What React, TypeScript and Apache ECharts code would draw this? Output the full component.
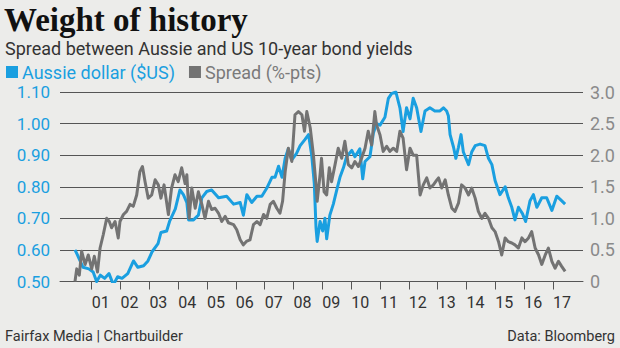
import React, { useEffect, useRef } from "react";
import * as echarts from "echarts";

const titleText = "Weight of history";
const subtitleText = "Spread between Aussie and US 10-year bond yields";
const audName = "Aussie dollar ($US)";
const spreadName = "Spread (%-pts)";
const sourceLeft = "Fairfax Media | Chartbuilder";
const sourceRight = "Data: Bloomberg";

const yearTicks = [2001, 2002, 2003, 2004, 2005, 2006, 2007, 2008, 2009, 2010, 2011, 2012, 2013, 2014, 2015, 2016, 2017];

const audTimes = [
  2000.42, 2000.5, 2000.55, 2000.7, 2000.9, 2001.05, 2001.17, 2001.3, 2001.45, 2001.6, 2001.75, 2001.9,
  2002.05, 2002.25, 2002.45, 2002.6, 2002.8, 2002.95, 2003.1, 2003.3, 2003.4, 2003.6, 2003.7, 2003.9,
  2004.06, 2004.18, 2004.3, 2004.36, 2004.53, 2004.7, 2004.82, 2004.99, 2005.16, 2005.4, 2005.68, 2005.92,
  2006.15, 2006.26, 2006.38, 2006.55, 2006.73, 2006.9, 2007.07, 2007.25, 2007.36, 2007.48, 2007.6, 2007.71,
  2007.82, 2007.94, 2008.1, 2008.23, 2008.4, 2008.52, 2008.63, 2008.72, 2008.78, 2008.82, 2008.92, 2009.01,
  2009.09, 2009.15, 2009.26, 2009.38, 2009.5, 2009.61, 2009.73, 2009.84, 2010.02, 2010.13, 2010.3, 2010.4,
  2010.48, 2010.65, 2010.77, 2010.88, 2011.0, 2011.17, 2011.29, 2011.4, 2011.55, 2011.69, 2011.8, 2011.92,
  2012.04, 2012.15, 2012.27, 2012.42, 2012.56, 2012.73, 2012.9, 2013.08, 2013.2, 2013.31, 2013.37, 2013.43,
  2013.55, 2013.63, 2013.72, 2013.81, 2013.89, 2014.07, 2014.18, 2014.3, 2014.47, 2014.64, 2014.76, 2014.88,
  2014.99, 2015.16, 2015.34, 2015.45, 2015.57, 2015.68, 2015.8, 2015.94, 2016.05, 2016.2, 2016.32, 2016.44,
  2016.61, 2016.78, 2016.96, 2017.13, 2017.25, 2017.42,
];
const audValues = [
  0.6, 0.585, 0.575, 0.545, 0.54, 0.53, 0.5, 0.52, 0.51, 0.525, 0.49, 0.515,
  0.51, 0.525, 0.565, 0.545, 0.55, 0.565, 0.595, 0.62, 0.655, 0.66, 0.69, 0.73,
  0.79, 0.775, 0.75, 0.695, 0.695, 0.71, 0.765, 0.785, 0.79, 0.765, 0.77, 0.745,
  0.75, 0.71, 0.775, 0.75, 0.77, 0.77, 0.795, 0.83, 0.83, 0.865, 0.83, 0.89,
  0.92, 0.885, 0.905, 0.93, 0.95, 0.965, 0.9, 0.81, 0.67, 0.627, 0.69, 0.66,
  0.7, 0.635, 0.71, 0.745, 0.79, 0.83, 0.86, 0.895, 0.915, 0.895, 0.92, 0.825,
  0.88, 0.895, 0.97, 1.0, 0.995, 1.02, 1.08, 1.095, 1.1, 1.05, 0.975, 1.05,
  1.015, 1.08, 1.05, 0.975, 1.04, 1.05, 1.04, 1.04, 1.05, 1.04, 1.025, 0.965,
  0.925, 0.89, 0.925, 0.965, 0.91, 0.87, 0.91, 0.93, 0.935, 0.93, 0.89, 0.87,
  0.82, 0.775, 0.8, 0.765, 0.735, 0.695, 0.735, 0.715, 0.69, 0.755, 0.775, 0.735,
  0.765, 0.765, 0.725, 0.77, 0.76, 0.745,
];

const spreadTimes = [
  2000.42, 2000.48, 2000.57, 2000.65, 2000.77, 2000.88, 2001.0, 2001.09, 2001.2, 2001.29, 2001.4, 2001.52,
  2001.61, 2001.69, 2001.81, 2001.92, 2001.98, 2002.1, 2002.21, 2002.33, 2002.44, 2002.56, 2002.67, 2002.76,
  2002.85, 2002.96, 2003.08, 2003.2, 2003.31, 2003.4, 2003.51, 2003.66, 2003.77, 2003.89, 2004.0, 2004.12,
  2004.24, 2004.3, 2004.38, 2004.47, 2004.59, 2004.7, 2004.82, 2004.93, 2005.05, 2005.16, 2005.28, 2005.4,
  2005.51, 2005.63, 2005.74, 2005.92, 2006.03, 2006.15, 2006.26, 2006.38, 2006.49, 2006.61, 2006.73, 2006.84,
  2006.96, 2007.07, 2007.19, 2007.3, 2007.42, 2007.53, 2007.62, 2007.71, 2007.82, 2007.94, 2008.05, 2008.17,
  2008.29, 2008.38, 2008.46, 2008.58, 2008.69, 2008.78, 2008.82, 2008.92, 2008.97, 2009.06, 2009.15, 2009.24,
  2009.32, 2009.44, 2009.55, 2009.67, 2009.78, 2009.9, 2010.02, 2010.13, 2010.25, 2010.36, 2010.48, 2010.59,
  2010.71, 2010.82, 2010.88, 2011.0, 2011.11, 2011.23, 2011.34, 2011.46, 2011.58, 2011.69, 2011.8, 2011.92,
  2012.04, 2012.15, 2012.27, 2012.39, 2012.5, 2012.62, 2012.73, 2012.85, 2012.96, 2013.03, 2013.14, 2013.26,
  2013.37, 2013.49, 2013.6, 2013.72, 2013.83, 2013.95, 2014.07, 2014.18, 2014.3, 2014.41, 2014.53, 2014.64,
  2014.76, 2014.88, 2014.99, 2015.11, 2015.22, 2015.34, 2015.45, 2015.57, 2015.68, 2015.8, 2015.92, 2016.03,
  2016.15, 2016.26, 2016.38, 2016.5, 2016.61, 2016.73, 2016.84, 2016.96, 2017.07, 2017.19, 2017.3, 2017.42,
];
const spreadValues = [
  0.0, 0.2, 0.1, 0.48, 0.27, 0.42, 0.2, 0.4, 0.15, 0.53, 0.74, 1.0,
  0.95, 0.85, 0.95, 0.69, 0.95, 1.06, 1.11, 1.22, 1.19, 1.37, 1.74, 1.82,
  1.58, 1.32, 1.37, 1.61, 1.53, 1.32, 1.53, 1.06, 1.48, 1.69, 1.58, 1.8,
  1.55, 1.69, 1.0, 1.48, 1.16, 1.42, 1.22, 1.0, 1.27, 1.14, 1.16, 1.08,
  0.95, 1.03, 0.93, 0.9, 0.82, 0.66, 0.58, 0.64, 0.66, 0.9, 0.95, 0.9,
  1.06, 1.0, 1.22, 1.27, 1.16, 1.08, 1.27, 1.74, 2.11, 1.9, 2.64, 2.69,
  2.64, 2.38, 2.69, 2.43, 2.0, 1.53, 1.27, 1.69, 1.95, 1.42, 1.37, 1.8,
  1.58, 1.85, 2.11, 1.95, 2.22, 1.85, 1.8, 1.9, 1.82, 1.95, 2.11, 2.38,
  2.16, 2.69, 2.48, 2.32, 2.06, 2.14, 2.06, 2.11, 2.06, 2.38, 2.27, 1.77,
  2.11, 2.0, 2.0, 1.37, 1.53, 1.64, 1.48, 1.53, 1.6, 1.64, 1.48, 1.61,
  1.37, 1.16, 1.11, 1.24, 1.53, 1.48, 1.37, 1.48, 1.32, 1.11, 1.0, 1.08,
  1.0, 0.85, 0.79, 0.63, 0.42, 0.69, 0.63, 0.61, 0.58, 0.53, 0.69, 0.63,
  0.69, 0.79, 0.53, 0.42, 0.27, 0.42, 0.53, 0.32, 0.21, 0.32, 0.24, 0.16,
];

const BLUE = "#1a9fe0";
const GREY = "#737373";
const BG = "#ececea";
const SANS = "Roboto, 'Noto Sans', sans-serif";

export default function App() {
  const ref = useRef<HTMLDivElement>(null);

  useEffect(() => {
    if (!ref.current) return;
    const chart = echarts.init(ref.current, null, { renderer: "svg" });
    const audData = audTimes.map((t, i) => [t, audValues[i]]);
    const spreadData = spreadTimes.map((t, i) => [t, spreadValues[i]]);

    chart.setOption({
      animation: false,
      backgroundColor: BG,
      title: [
        {
          text: titleText,
          left: 4,
          top: 3,
          padding: 0,
          textStyle: { fontFamily: "'Liberation Serif', serif", fontWeight: "bold", fontSize: 33, color: "#111" },
        },
        {
          text: subtitleText,
          left: 5,
          top: 39,
          padding: 0,
          textStyle: { fontFamily: SANS, fontWeight: "normal", fontSize: 18, color: "#333" },
        },
        {
          text: sourceLeft,
          left: 5,
          top: 329,
          padding: 0,
          textStyle: { fontFamily: SANS, fontWeight: "normal", fontSize: 14.5, color: "#333" },
        },
        {
          text: sourceRight,
          right: 5,
          top: 329,
          padding: 0,
          textStyle: { fontFamily: SANS, fontWeight: "normal", fontSize: 14.5, color: "#333" },
        },
      ],
      legend: {
        left: 6,
        top: 63,
        padding: 0,
        icon: "rect",
        itemWidth: 12,
        itemHeight: 12,
        itemGap: 14,
        selectedMode: false,
        data: [
          { name: audName, textStyle: { color: BLUE } },
          { name: spreadName, textStyle: { color: "#7a7a7a" } },
        ],
        textStyle: { fontFamily: SANS, fontSize: 18, padding: [0, 0, 0, -1] },
      },
      grid: { left: 60, right: 37, top: 92, bottom: 66.5, containLabel: false },
      xAxis: {
        type: "value",
        min: 1999.9,
        max: 2018.04,
        splitLine: { show: false },
        axisLine: { show: true, lineStyle: { color: "#555", width: 1 } },
        axisTick: { show: true, customValues: yearTicks, length: 8, lineStyle: { color: "#555", width: 1 } },
        axisLabel: {
          customValues: yearTicks,
          align: "left",
          margin: 13,
          fontFamily: SANS,
          fontSize: 16,
          color: "#333",
          formatter: (v: number) => String(Math.round(v) % 100).padStart(2, "0"),
        },
      },
      yAxis: [
        {
          type: "value",
          min: 0.5,
          max: 1.1,
          interval: 0.1,
          position: "left",
          axisLine: { show: false },
          axisTick: { show: false },
          splitLine: { show: true, lineStyle: { color: "#555", width: 1 } },
          axisLabel: {
            margin: 10,
            fontFamily: SANS,
            fontSize: 17,
            color: BLUE,
            formatter: (v: number) => v.toFixed(2),
          },
        },
        {
          type: "value",
          min: 0,
          max: 3,
          interval: 0.5,
          position: "right",
          axisLine: { show: false },
          axisTick: { show: false },
          splitLine: { show: false },
          axisLabel: {
            margin: 7,
            fontFamily: SANS,
            fontSize: 18,
            color: "#8a8a8a",
            formatter: (v: number) => (v === 0 ? "0" : v.toFixed(1)),
          },
        },
      ],
      series: [
        {
          name: audName,
          type: "line",
          yAxisIndex: 0,
          data: audData,
          showSymbol: false,
          symbol: "none",
          itemStyle: { color: BLUE },
          lineStyle: { color: BLUE, width: 3, join: "round" },
        },
        {
          name: spreadName,
          type: "line",
          yAxisIndex: 1,
          data: spreadData,
          showSymbol: false,
          symbol: "none",
          itemStyle: { color: GREY },
          lineStyle: { color: GREY, width: 3, join: "round" },
        },
      ],
    });

    return () => chart.dispose();
  }, []);

  return (
    <div
      ref={ref}
      style={{ position: "fixed", left: 0, top: 0, width: 620, height: 348 }}
    />
  );
}
